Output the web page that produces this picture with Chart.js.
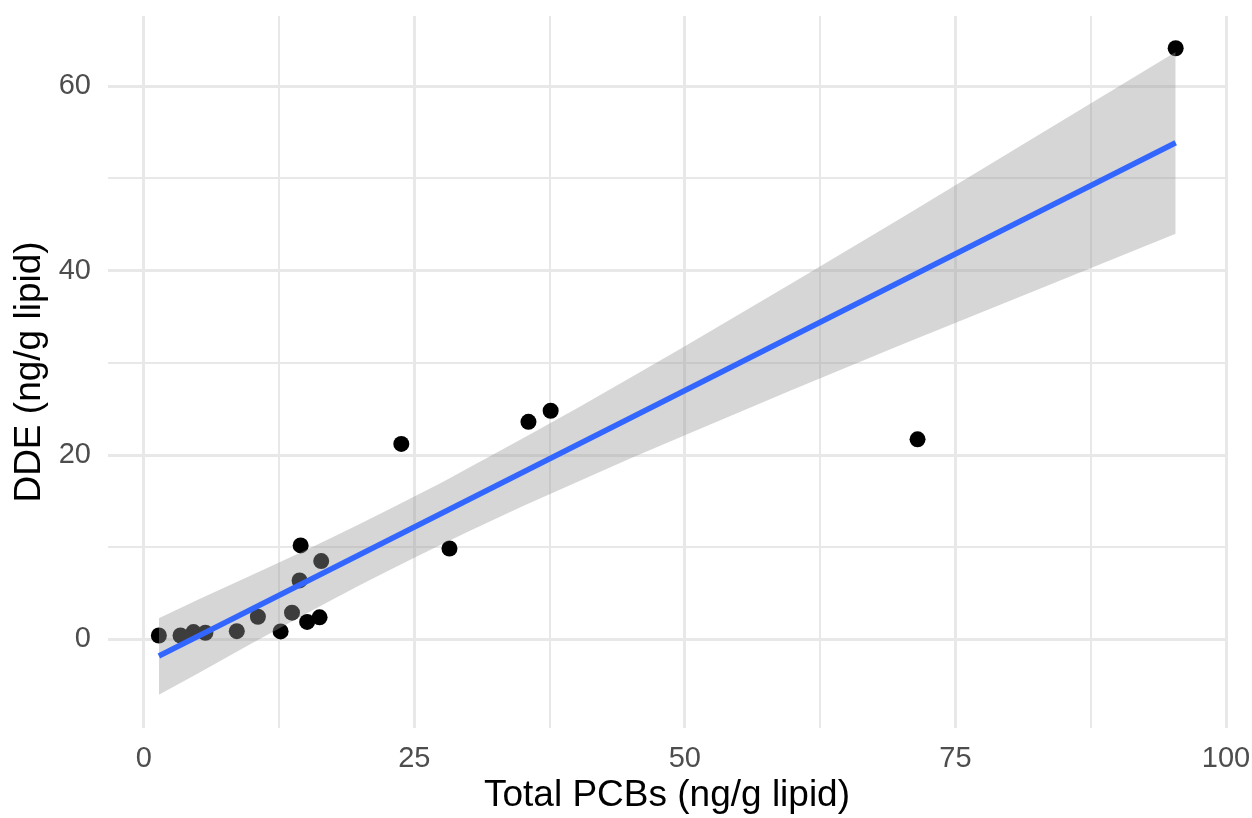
<!DOCTYPE html>
<html>
<head>
<meta charset="utf-8">
<title>DDE vs Total PCBs</title>
<script src="https://cdn.jsdelivr.net/npm/chart.js@4"></script>
<style>
  html, body { margin: 0; padding: 0; background: #fff; }
  canvas { display: block; }
</style>
</head>
<body>
<canvas id="grafica" width="1252" height="818"></canvas>
<script>
// === DATA ===
// observed samples
const pcb = [1.4, 3.4, 4.6, 5.7, 8.6, 10.55, 12.65, 13.7, 14.4, 14.5, 15.1, 16.25, 16.4, 23.8, 28.25, 35.55, 37.6, 71.5, 95.35];
const dde = [0.43, 0.43, 0.8, 0.73, 0.9, 2.46, 0.87, 2.9, 6.4, 10.2, 1.9, 2.4, 8.5, 21.2, 9.86, 23.6, 24.8, 21.7, 64.1];

// fitted line (lm) end points
const fitX = [1.4, 95.35];
const fitY = [-1.8, 53.85];

// 95% confidence band, read along x
const bandX  = [1.4, 5, 10, 15, 17.5, 20, 22.5, 25, 27.5, 30, 35, 40, 45, 50, 60, 70, 80, 95.35];
const bandHi = [2.3, 4.3, 7.0, 9.7, 11.1, 12.55, 14.0, 15.5, 17.0, 18.6, 21.8, 25.05, 28.4, 31.8, 38.7, 45.7, 52.8, 63.7];
const bandLo = [-6.0, -3.7, -0.4, 2.8, 4.35, 5.9, 7.4, 8.85, 10.3, 11.7, 14.45, 17.05, 19.65, 22.15, 27.1, 31.95, 36.7, 44.0];

// grid lines and labels
const xGrid = [0, 12.5, 25, 37.5, 50, 62.5, 75, 87.5, 100];
const xLabels = [0, 25, 50, 75, 100];
const yGrid = [0, 10, 20, 30, 40, 50, 60];
const yLabels = [0, 20, 40, 60];

const FONT = "'Liberation Sans', Arial, Helvetica, sans-serif";
const GRID = "#E8E8E8";

const puntos = pcb.map((x, i) => ({ x, y: dde[i] }));
const linea = fitX.map((x, i) => ({ x, y: fitY[i] }));
const alto = bandX.map((x, i) => ({ x, y: bandHi[i] }));
const bajo = bandX.map((x, i) => ({ x, y: bandLo[i] }));

const ctx = document.getElementById("grafica").getContext("2d");

new Chart(ctx, {
  type: "scatter",
  data: {
    datasets: [
      {
        label: "muestras",
        data: puntos,
        backgroundColor: "#000",
        borderWidth: 0,
        pointRadius: 8,
        order: 3
      },
      {
        label: "banda inferior",
        type: "line",
        data: bajo,
        borderWidth: 0,
        pointRadius: 0,
        fill: false,
        order: 2
      },
      {
        label: "banda superior",
        type: "line",
        data: alto,
        borderWidth: 0,
        pointRadius: 0,
        backgroundColor: "rgba(153,153,153,0.4)",
        fill: "-1",
        order: 2
      },
      {
        label: "ajuste",
        type: "line",
        data: linea,
        borderColor: "#3366FF",
        borderWidth: 5.5,
        pointRadius: 0,
        fill: false,
        order: 1
      }
    ]
  },
  options: {
    responsive: false,
    animation: false,
    layout: { padding: { left: 0, right: 26, top: 16, bottom: 0 } },
    plugins: {
      legend: { display: false },
      tooltip: { enabled: false }
    },
    scales: {
      x: {
        type: "linear",
        min: -3.3,
        max: 100,
        afterBuildTicks: s => { s.ticks = xGrid.map(v => ({ value: v })); },
        afterFit: s => {
          s.height = 90;
          s.paddingLeft = 0;
          s.paddingRight = 0;
        },
        border: { display: false },
        grid: {
          color: GRID,
          lineWidth: c => (xLabels.includes(c.tick.value) ? 3 : 2),
          drawTicks: false
        },
        ticks: {
          autoSkip: false,
          maxRotation: 0,
          padding: 14,
          color: "#4D4D4D",
          font: { family: FONT, size: 29 },
          callback: v => (xLabels.includes(v) ? String(v) : "")
        },
        title: {
          display: true,
          text: "Total PCBs (ng/g lipid)",
          color: "#000",
          font: { family: FONT, size: 37 },
          padding: { top: 0, bottom: 0 }
        }
      },
      y: {
        type: "linear",
        min: -9.6,
        max: 67.6,
        afterBuildTicks: s => { s.ticks = yGrid.map(v => ({ value: v })); },
        afterFit: s => {
          s.width = 108;
          s.paddingTop = 0;
          s.paddingBottom = 0;
        },
        border: { display: false },
        grid: {
          color: GRID,
          lineWidth: c => (yLabels.includes(c.tick.value) ? 3 : 2),
          drawTicks: false
        },
        ticks: {
          autoSkip: false,
          padding: 17,
          color: "#4D4D4D",
          font: { family: FONT, size: 29 },
          callback: v => (yLabels.includes(v) ? String(v) : "")
        },
        title: {
          display: true,
          text: "DDE (ng/g lipid)",
          color: "#000",
          font: { family: FONT, size: 37 },
          padding: { top: 8, bottom: 0 }
        }
      }
    }
  }
});
</script>
</body>
</html>
